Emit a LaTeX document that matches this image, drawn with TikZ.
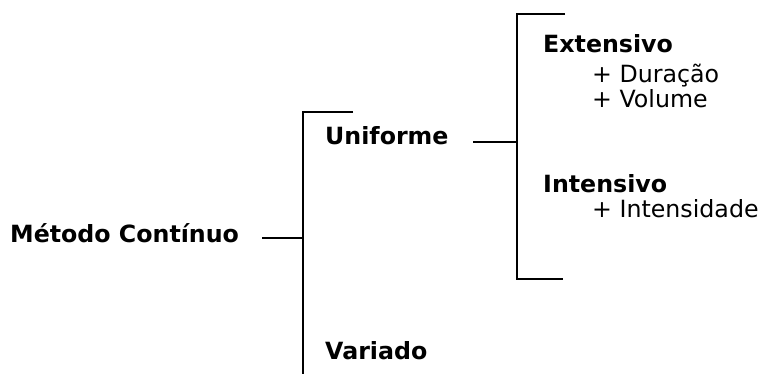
\documentclass[tikz,border=0pt]{standalone}
\usepackage{fontspec}
\setmainfont{DejaVu Sans}
\begin{document}
\begin{tikzpicture}[x=1pt,y=1pt,
  lbl/.style={inner sep=0pt, anchor=base west, font=\fontsize{23.7}{28}\selectfont},
  head/.style={lbl, font=\fontsize{23.7}{28}\selectfont\bfseries},
  bracket/.style={line width=1.6pt, black}]
  \useasboundingbox (0,0) rectangle (762,374);

  % labels
  \node[head] (metodo) at (10,131) {Método Contínuo};
  \node[head] (uniforme) at (325,229) {Uniforme};
  \node[head] (variado) at (325,14) {Variado};
  \node[head] (extensivo) at (543,321) {Extensivo};
  \node[lbl] (duracao) at (592,291) {+ Duração};
  \node[lbl] (volume) at (592,266) {+ Volume};
  \node[head] (intensivo) at (543,181) {Intensivo};
  \node[lbl] (intensidade) at (592,156) {+ Intensidade};

  % bracket points
  \coordinate (m-out) at (262,136);
  \coordinate (b1-mid) at (303,136);
  \coordinate (b1-top) at (303,262);
  \coordinate (b1-topend) at (353,262);
  \coordinate (b1-bot) at (303,0);
  \coordinate (u-out) at (473,232);
  \coordinate (b2-mid) at (517,232);
  \coordinate (b2-top) at (517,360);
  \coordinate (b2-topend) at (565,360);
  \coordinate (b2-bot) at (517,95);
  \coordinate (b2-botend) at (563,95);

  % first bracket
  \draw[bracket] (m-out) -- (b1-mid);
  \draw[bracket] (b1-topend) -- (b1-top) -- (b1-bot);
  % second bracket
  \draw[bracket] (u-out) -- (b2-mid);
  \draw[bracket] (b2-topend) -- (b2-top) -- (b2-bot) -- (b2-botend);
\end{tikzpicture}
\end{document}
